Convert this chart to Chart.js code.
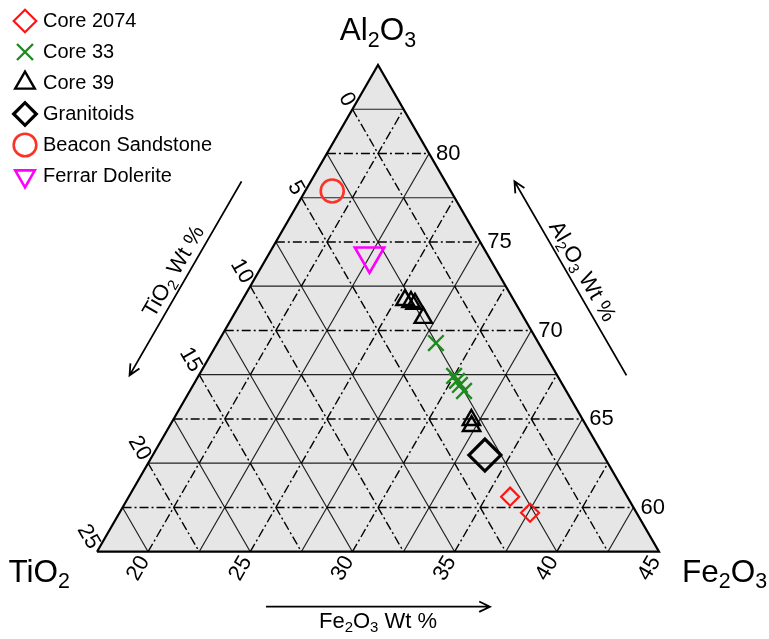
<!DOCTYPE html>
<html>
<head>
<meta charset="utf-8">
<style>
  html, body { margin: 0; padding: 0; background: #ffffff; }
  canvas { display: block; }
</style>
<script src="https://cdn.jsdelivr.net/npm/chart.js@4.4.1/dist/chart.umd.min.js"></script>
</head>
<body>
<canvas id="ternary" width="769" height="639"></canvas>
<script>
// Ternary window: every component spans 27.5 wt% inside the triangle
const AL_MIN = 57.5;
const FE_MIN = 17.5;
const TI_MIN = -2.5;
const SPAN = 27.5;
const GRID_STEP = 2.5;

// Tick labels on each side
const alTicks = [60, 65, 70, 75, 80];
const feTicks = [20, 25, 30, 35, 40, 45];
const tiTicks = [0, 5, 10, 15, 20, 25];

// Sample compositions (wt%)
const core2074Al = [60.61, 59.70];
const core2074Fe = [36.16, 37.59];
const core2074Ti = [3.23, 2.71];

const core33Al = [69.29, 67.43, 67.15, 66.92, 66.58];
const core33Fe = [28.19, 30.01, 30.29, 30.55, 30.92];
const core33Ti = [2.52, 2.56, 2.56, 2.53, 2.50];

const core39Al = [71.72, 71.61, 71.50, 70.71, 64.94, 64.60];
const core39Fe = [25.46, 25.81, 26.06, 26.86, 32.10, 32.28];
const core39Ti = [2.82, 2.58, 2.44, 2.43, 2.96, 3.12];

const granitoidsAl = [62.96];
const granitoidsFe = [33.75];
const granitoidsTi = [3.29];

const beaconAl = [77.88];
const beaconFe = [18.82];
const beaconTi = [3.30];

const ferrarAl = [74.21];
const ferrarFe = [22.48];
const ferrarTi = [3.31];

const FONT = "'Liberation Sans', Arial, Helvetica, sans-serif";
Chart.defaults.font.family = FONT;
Chart.defaults.color = '#000';

// ---- ternary -> cartesian projection (bottom-left corner at the origin) ----
const H = Math.sqrt(3) / 2;
function project(al, fe, ti) {
  const a = al - AL_MIN, f = fe - FE_MIN, t = ti - TI_MIN;
  const s = a + f + t;
  return { x: (f + a / 2) / s * SPAN, y: a * H / s * SPAN };
}
function series(al, fe, ti) {
  return al.map((v, i) => project(v, fe[i], ti[i]));
}

const AL_MAX = 100 - FE_MIN - TI_MIN;
const cornerTop = project(AL_MAX, FE_MIN, TI_MIN);
const cornerLeft = project(AL_MIN, FE_MIN, 100 - AL_MIN - FE_MIN);
const cornerRight = project(AL_MIN, 100 - AL_MIN - TI_MIN, TI_MIN);

// grid lines: multiples of 5 dash-dotted, the half steps solid
const solidGrid = [], dashGrid = [];
for (let k = 1; k * GRID_STEP < SPAN - 1e-9; k++) {
  const al = AL_MIN + k * GRID_STEP;
  const fe = FE_MIN + k * GRID_STEP;
  const ti = TI_MIN + k * GRID_STEP;
  const segs = [
    [project(al, FE_MIN, 100 - al - FE_MIN), project(al, 100 - al - TI_MIN, TI_MIN), al],
    [project(AL_MIN, fe, 100 - AL_MIN - fe), project(100 - fe - TI_MIN, fe, TI_MIN), fe],
    [project(100 - ti - FE_MIN, FE_MIN, ti), project(AL_MIN, 100 - AL_MIN - ti, ti), ti]
  ];
  for (const [p, q, v] of segs) {
    const target = Math.abs(v / 5 - Math.round(v / 5)) < 1e-6 ? dashGrid : solidGrid;
    target.push(p, q, { x: null, y: null });
  }
}

// ---- placement of the triangle on the canvas ----
const CANVAS_W = 769, CANVAS_H = 639;
const PAD_LEFT = 6;
const TRI_X0 = 97, TRI_Y0 = 551.7, TRI_W = 562;
const UNIT = TRI_W / SPAN;

function drawFormula(ctx, text, x, y, size, angle, align) {
  const subSize = size * 0.68;
  const pieces = [];
  let total = 0;
  for (const m of text.matchAll(/(\d+)|([^\d]+)/g)) {
    const sub = !!m[1];
    ctx.font = `${sub ? subSize : size}px ${FONT}`;
    const w = ctx.measureText(m[0]).width;
    pieces.push({ s: m[0], sub, w });
    total += w;
  }
  ctx.save();
  ctx.translate(x, y);
  ctx.rotate(angle);
  ctx.textAlign = 'left';
  ctx.textBaseline = 'alphabetic';
  let cx = align === 'center' ? -total / 2 : align === 'right' ? -total : 0;
  const base = size * 0.36;
  for (const p of pieces) {
    ctx.font = `${p.sub ? subSize : size}px ${FONT}`;
    ctx.fillText(p.s, cx, base + (p.sub ? size * 0.2 : 0));
    cx += p.w;
  }
  ctx.restore();
}

function drawArrow(ctx, x1, y1, x2, y2) {
  const ang = Math.atan2(y2 - y1, x2 - x1);
  const head = 12, spread = 0.45;
  ctx.beginPath();
  ctx.moveTo(x1, y1);
  ctx.lineTo(x2, y2);
  ctx.moveTo(x2 - head * Math.cos(ang - spread), y2 - head * Math.sin(ang - spread));
  ctx.lineTo(x2, y2);
  ctx.lineTo(x2 - head * Math.cos(ang + spread), y2 - head * Math.sin(ang + spread));
  ctx.stroke();
}

const ternaryText = {
  id: 'ternaryText',
  afterDatasetsDraw(chart) {
    const ctx = chart.ctx;
    const xs = chart.scales.x, ys = chart.scales.y;
    const pix = p => ({ x: xs.getPixelForValue(p.x), y: ys.getPixelForValue(p.y) });
    const T = pix(cornerTop), L = pix(cornerLeft), R = pix(cornerRight);
    const C = { x: (T.x + L.x + R.x) / 3, y: (T.y + L.y + R.y) / 3 };

    ctx.save();
    ctx.fillStyle = '#000';
    ctx.strokeStyle = '#000';

    // tick labels
    ctx.font = `22px ${FONT}`;
    ctx.textBaseline = 'middle';
    ctx.textAlign = 'left';
    for (const v of alTicks) {
      const p = pix(project(v, 100 - v - TI_MIN, TI_MIN));
      ctx.fillText(String(v), p.x + 7, p.y);
    }
    for (const v of feTicks) {
      const p = pix(project(AL_MIN, v, 100 - AL_MIN - v));
      ctx.save();
      ctx.translate(p.x - 7 * 0.5, p.y + 7 * H);
      ctx.rotate(-Math.PI / 3);
      ctx.textAlign = 'right';
      ctx.fillText(String(v), 0, 0);
      ctx.restore();
    }
    for (const v of tiTicks) {
      const p = pix(project(100 - v - FE_MIN, FE_MIN, v));
      ctx.save();
      ctx.translate(p.x - 5 * 0.5, p.y - 5 * H);
      ctx.rotate(Math.PI / 3);
      ctx.textAlign = 'right';
      ctx.fillText(String(v), 0, 0);
      ctx.restore();
    }

    // corner names
    drawFormula(ctx, 'Al2O3', T.x, T.y - 36, 31.5, 0, 'center');
    drawFormula(ctx, 'TiO2', L.x - 27, L.y + 19, 31.5, 0, 'right');
    drawFormula(ctx, 'Fe2O3', R.x + 23, R.y + 19, 31.5, 0, 'left');

    // side arrows with their titles
    const sides = [
      { a: L, b: R, from: L, to: R, off: 55, textOff: 68, label: 'Fe2O3 Wt %' },
      { a: L, b: T, from: T, to: L, off: 60, textOff: 75, label: 'TiO2 Wt %' },
      { a: R, b: T, from: R, to: T, off: 60, textOff: 75, label: 'Al2O3 Wt %' }
    ];
    const HALF = 112;
    ctx.lineWidth = 1.8;
    for (const s of sides) {
      const m = { x: (s.a.x + s.b.x) / 2, y: (s.a.y + s.b.y) / 2 };
      let dx = s.to.x - s.from.x, dy = s.to.y - s.from.y;
      const len = Math.hypot(dx, dy);
      dx /= len; dy /= len;
      let nx = -dy, ny = dx;
      if ((m.x - C.x) * nx + (m.y - C.y) * ny < 0) { nx = -nx; ny = -ny; }
      const ox = m.x + nx * s.off, oy = m.y + ny * s.off;
      drawArrow(ctx, ox - dx * HALF, oy - dy * HALF, ox + dx * HALF, oy + dy * HALF);
      let ang = Math.atan2(dy, dx);
      if (ang > Math.PI / 2) ang -= Math.PI;
      if (ang < -Math.PI / 2) ang += Math.PI;
      drawFormula(ctx, s.label, m.x + nx * s.textOff, m.y + ny * s.textOff, 22, ang, 'center');
    }
    ctx.restore();
  }
};

const hollow = 'rgba(0,0,0,0)';
const chart = new Chart(document.getElementById('ternary'), {
  type: 'scatter',
  data: {
    datasets: [
      { label: 'Core 2074', data: series(core2074Al, core2074Fe, core2074Ti),
        pointStyle: 'rectRot', pointRadius: 9, borderColor: '#ff1414', backgroundColor: hollow,
        borderWidth: 2.2, pointBorderWidth: 2.2, order: 0 },
      { label: 'Core 33', data: series(core33Al, core33Fe, core33Ti),
        pointStyle: 'crossRot', pointRadius: 11, borderColor: '#1f8a1f', backgroundColor: hollow,
        borderWidth: 2.4, pointBorderWidth: 2.4, order: 0 },
      { label: 'Core 39', data: series(core39Al, core39Fe, core39Ti),
        pointStyle: 'triangle', pointRadius: 10, borderColor: '#000', backgroundColor: hollow,
        borderWidth: 2.4, pointBorderWidth: 2.4, order: 0 },
      { label: 'Granitoids', data: series(granitoidsAl, granitoidsFe, granitoidsTi),
        pointStyle: 'rectRot', pointRadius: 16, borderColor: '#000', backgroundColor: hollow,
        borderWidth: 3.2, pointBorderWidth: 3.2, order: 0 },
      { label: 'Beacon Sandstone', data: series(beaconAl, beaconFe, beaconTi),
        pointStyle: 'circle', pointRadius: 11.5, borderColor: '#fa3328', backgroundColor: hollow,
        borderWidth: 2.6, pointBorderWidth: 2.6, order: 0 },
      { label: 'Ferrar Dolerite', data: series(ferrarAl, ferrarFe, ferrarTi),
        pointStyle: 'triangle', pointRotation: 180, pointRadius: 17, borderColor: '#ff00ff', backgroundColor: hollow,
        borderWidth: 2.6, pointBorderWidth: 2.6, order: 0 },
      { label: '', helper: true, data: [cornerLeft, cornerRight, cornerTop, cornerLeft],
        showLine: true, pointRadius: 0, borderColor: '#000', borderWidth: 2.2, fill: false, order: 1 },
      { label: '', helper: true, data: dashGrid, showLine: true, spanGaps: false, pointRadius: 0,
        borderColor: '#000', borderWidth: 1.4, borderDash: [9, 3, 2, 3], order: 2 },
      { label: '', helper: true, data: solidGrid, showLine: true, spanGaps: false, pointRadius: 0,
        borderColor: '#222', borderWidth: 1.2, order: 3 },
      { label: '', helper: true, data: [cornerLeft, cornerTop, cornerRight],
        showLine: true, pointRadius: 0, borderWidth: 0, borderColor: 'rgba(0,0,0,0)',
        backgroundColor: '#e6e6e6', fill: 'origin', order: 4 }
    ]
  },
  options: {
    responsive: false,
    animation: false,
    devicePixelRatio: 1,
    layout: { autoPadding: false, padding: { left: PAD_LEFT, right: 0, top: 0, bottom: 0 } },
    scales: {
      x: { type: 'linear', display: false,
           min: (PAD_LEFT - TRI_X0) / UNIT, max: (CANVAS_W - TRI_X0) / UNIT },
      y: { type: 'linear', display: false,
           min: -(CANVAS_H - TRI_Y0) / UNIT, max: TRI_Y0 / UNIT }
    },
    plugins: {
      tooltip: { enabled: false },
      legend: {
        position: 'chartArea',
        align: 'start',
        labels: {
          usePointStyle: true,
          boxWidth: 16,
          boxHeight: 16,
          padding: 11,
          color: '#000',
          font: { size: 20 },
          filter: (item, data) => !data.datasets[item.datasetIndex].helper
        }
      }
    }
  },
  plugins: [ternaryText]
});
</script>
</body>
</html>
